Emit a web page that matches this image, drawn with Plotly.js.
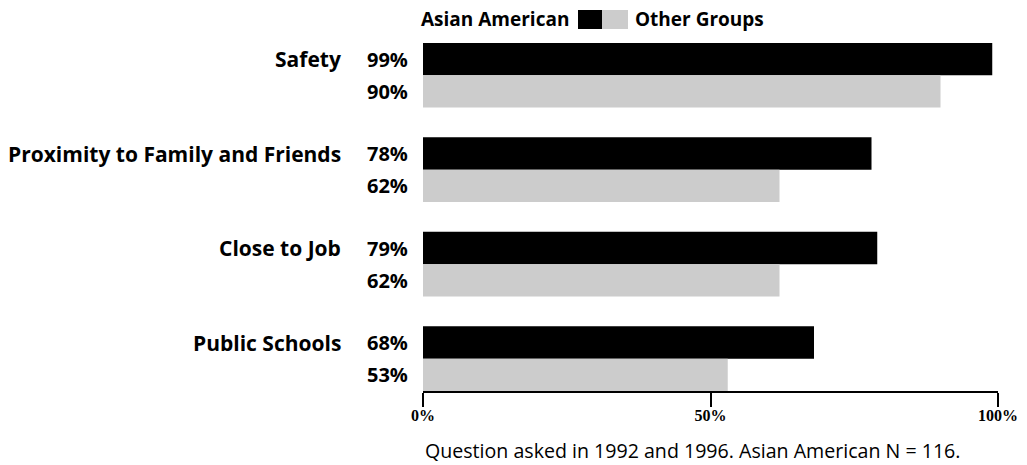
<!DOCTYPE html>
<html>
<head>
<meta charset="utf-8">
<script src="https://cdn.plot.ly/plotly-3.0.1.min.js"></script>
<style>
html,body{margin:0;padding:0;background:#fff;}
#chart{width:1027px;height:465px;}
</style>
</head>
<body>
<div id="chart"></div>
<script>
const categories = ["Safety", "Proximity to Family and Friends", "Close to Job", "Public Schools"];
const asianAmerican = [99, 78, 79, 68];
const otherGroups = [90, 62, 62, 53];
const seriesNames = ["Asian American", "Other Groups"];
const tickValues = [0, 50, 100];
const tickLabels = ["0%", "50%", "100%"];
const caption = "Question asked in 1992 and 1996. Asian American N = 116.";

const FAM = "'Open Sans', Lato, sans-serif";
const catFont = {family: FAM, size: 21, color: "#000", weight: 700};
const pctFont = {family: FAM, size: 20, color: "#000", weight: 700};
const BLACK = "#000000", GRAY = "#cccccc";

const traces = [
  {type: "bar", orientation: "h", name: seriesNames[0], y: categories, x: asianAmerican,
   marker: {color: BLACK, line: {width: 0}}, hoverinfo: "skip"},
  {type: "bar", orientation: "h", name: seriesNames[1], y: categories, x: otherGroups,
   marker: {color: GRAY, line: {width: 0}}, hoverinfo: "skip"}
];

const annotations = [];
categories.forEach((c, i) => {
  annotations.push({xref: "paper", yref: "y", x: 0, y: c, xshift: -80, yshift: 16,
    xanchor: "right", yanchor: "middle", text: "<b>" + c + "</b>", showarrow: false, font: catFont});
  annotations.push({xref: "paper", yref: "y", x: 0, y: c, xshift: -13, yshift: 16,
    xanchor: "right", yanchor: "middle", text: "<b>" + asianAmerican[i] + "%</b>", showarrow: false, font: pctFont});
  annotations.push({xref: "paper", yref: "y", x: 0, y: c, xshift: -13, yshift: -16,
    xanchor: "right", yanchor: "middle", text: "<b>" + otherGroups[i] + "%</b>", showarrow: false, font: pctFont});
});
// legend text
annotations.push({xref: "paper", yref: "paper", x: 0.2574, y: 1.024, xanchor: "right", yanchor: "middle",
  text: "<b>" + seriesNames[0] + "</b>", showarrow: false, font: {family: FAM, size: 19, color: "#000"}});
annotations.push({xref: "paper", yref: "paper", x: 0.3652, y: 1.024, xanchor: "left", yanchor: "middle",
  text: "<b>" + seriesNames[1] + "</b>", showarrow: false, font: {family: FAM, size: 19, color: "#000"}});
// caption
annotations.push({xref: "paper", yref: "paper", x: 0, y: -0.163, xanchor: "left", yanchor: "middle",
  text: caption, showarrow: false, font: {family: FAM, size: 19.6, color: "#000"}});

const shapes = [
  {type: "rect", xref: "paper", yref: "paper", x0: 0.2696, x1: 0.3113, y0: 0.9972, y1: 1.0496,
   fillcolor: BLACK, line: {width: 0}},
  {type: "rect", xref: "paper", yref: "paper", x0: 0.3113, x1: 0.3565, y0: 0.9972, y1: 1.0496,
   fillcolor: GRAY, line: {width: 0}}
];

const layout = {
  width: 1027, height: 465,
  margin: {l: 423, r: 29, t: 28, b: 74, pad: 0},
  paper_bgcolor: "#fff", plot_bgcolor: "#fff",
  barmode: "group", bargap: 0.315, bargroupgap: 0,
  showlegend: false,
  xaxis: {range: [0, 100], tickvals: tickValues, ticktext: tickLabels,
    showgrid: false, zeroline: false, showline: true, linecolor: "#000", linewidth: 2,
    ticks: "outside", ticklen: 14, tickwidth: 2, tickcolor: "#000", ticklabelstandoff: -5,
    tickfont: {family: "'Liberation Serif', 'Times New Roman', serif", size: 16, color: "#000", weight: 700},
    fixedrange: true},
  yaxis: {type: "category", range: [3.3425, -0.5], showgrid: false, zeroline: false,
    showline: false, showticklabels: false, ticks: "", fixedrange: true},
  annotations: annotations,
  shapes: shapes
};

Plotly.newPlot("chart", traces, layout, {staticPlot: true, displayModeBar: false});
</script>
</body>
</html>
